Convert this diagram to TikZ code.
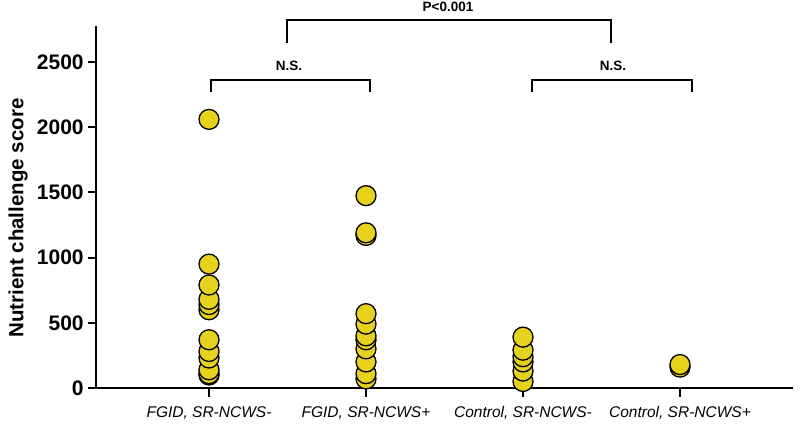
\documentclass[tikz,border=0pt]{standalone}
\usepackage{fontspec}
\setmainfont{Liberation Sans}
\usepackage{tikz}
\definecolor{dotyellow}{HTML}{E6D11C}

\begin{document}
\begin{tikzpicture}[%
    x=1pt, y=-1pt,
    line width=2pt,
    dot/.style={circle, draw=black, line width=1.3pt, fill=dotyellow, minimum size=20pt, inner sep=0pt},
    ticklabel/.style={font=\fontsize{21}{21}\selectfont\bfseries, anchor=east},
    catlabel/.style={font=\fontsize{15.5}{15.5}\selectfont\itshape},
    sig/.style={font=\fontsize{13.5}{13.5}\selectfont\bfseries}
    ]

    \useasboundingbox (0,0) rectangle (800,427);

    % axes
    \coordinate (o) at (96,388);
    \draw (96,26) -- (o) -- (793,388);
    \foreach \v in {0,500,...,2500}
        \draw (88,388-0.1304*\v) -- (96,388-0.1304*\v)
            node[ticklabel, xshift=-8pt] {\v};
    \node[rotate=90, font=\fontsize{20.5}{20.5}\selectfont\bfseries] (ylab) at (18,218) {Nutrient challenge score};

    % groups
    \foreach \x/\name [count=\i] in {209/{FGID, SR-NCWS-}, 366/{FGID, SR-NCWS+}, 523/{Control, SR-NCWS-}, 680/{Control, SR-NCWS+}} {
        \draw (\x,388) -- (\x,397);
        \node[catlabel] (cat\i) at (\x,413) {\name};
    }

    % data
    \foreach \v in {100,110,140,230,280,370,600,640,680,790,950,2060}
        \node[dot] at (209,388-0.1304*\v) {};
    \foreach \v in {70,110,200,300,370,400,490,570,1170,1190,1475}
        \node[dot] at (366,388-0.1304*\v) {};
    \foreach \v in {50,130,200,240,290,390}
        \node[dot] at (523,388-0.1304*\v) {};
    \foreach \v in {160,180}
        \node[dot] at (680,388-0.1304*\v) {};

    % brackets
    \draw (211,92) -- (211,80) -- (370,80) -- (370,92);
    \node[sig] (ns1) at (289,66) {N.S.};
    \draw (532,92) -- (532,80) -- (692,80) -- (692,92);
    \node[sig] (ns2) at (613,66) {N.S.};
    \draw (287,43) -- (287,20) -- (611,20) -- (611,43);
    \node[sig] (pval) at (448,7) {P<0.001};

\end{tikzpicture}
\end{document}
